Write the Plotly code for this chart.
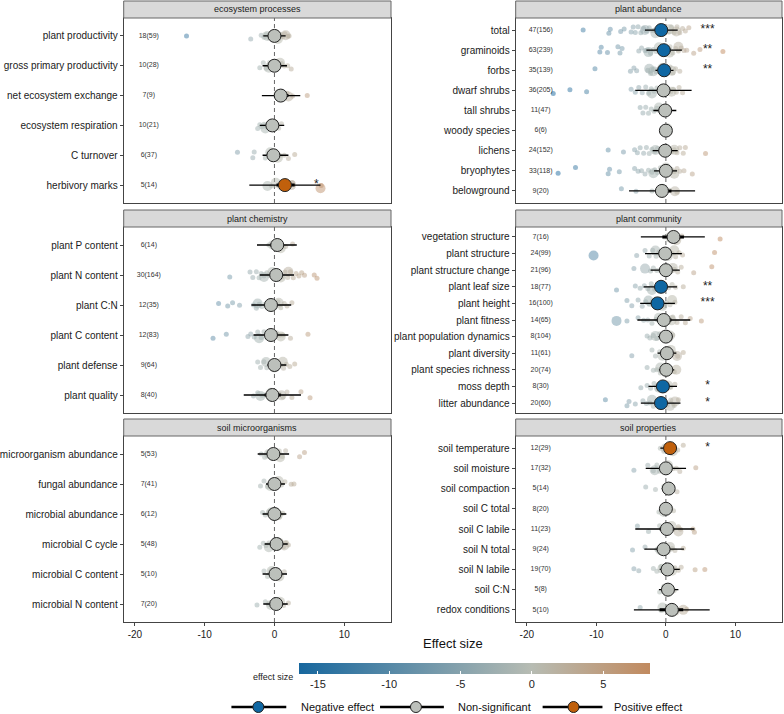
import plotly.graph_objects as go
from plotly.subplots import make_subplots

# ----------------------------------------------------------
# data
# ----------------------------------------------------------

eco_labels = ["plant productivity", "gross primary productivity", "net ecosystem exchange",
              "ecosystem respiration", "C turnover", "herbivory marks"]
eco_k = ["18(59)", "10(28)", "7(9)", "10(21)", "6(37)", "5(14)"]
eco_est = [0.0, 0.0, 0.9, -0.3, -0.15, 1.5]
eco_ci = [(-0.8, 0.8), (-0.9, 0.9), (0.0, 2.0), (-1.0, 0.5), (-0.9, 0.7), (0.3, 2.9)]
eco_pi = [(-1.6, 1.6), (-1.7, 1.8), (-1.8, 3.7), (-2.1, 1.4), (-1.7, 2.0), (-3.6, 6.6)]
eco_sig = ["", "", "", "", "", "*"]
eco_cls = ["ns", "ns", "ns", "ns", "ns", "pos"]
eco_pts = [
    [-12.6, -3.4, -1.9, -1.5, -1.2, -0.8, -0.5, -0.2, 0.3, 0.6, 0.9, 1.2, 1.5, 1.9, 2.1],
    [-2.1, -1.6, -1.2, -0.7, -0.3, 0.2, 0.6, 1.0, 1.4, 1.9, 2.4],
    [0.3, 1.2, 1.8, 2.6, 4.7],
    [-2.4, -2.1, -1.8, -1.5, -1.1, -0.7, -0.3, 0.2, 0.6, 1.0],
    [-5.3, -3.1, -2.9, -1.3, -0.8, -0.3, 0.3, 0.8, 1.4, 2.0, 2.9],
    [-0.4, 2.6, 6.7],
]
eco_big = [[-1.0, 0.5, 1.6], [-0.8, 0.8], [0.6, 2.0], [-1.3, -0.2], [-0.6, 0.5],
           [-1.0, 0.2, 1.0, 2.4, 6.6]]

chem_labels = ["plant P content", "plant N content", "plant C:N", "plant C content",
               "plant defense", "plant quality"]
chem_k = ["6(14)", "30(164)", "12(35)", "12(83)", "9(64)", "8(40)"]
chem_est = [0.4, 0.25, -0.5, -0.5, 0.0, -0.3]
chem_ci = [(-0.6, 1.3), (-0.5, 1.0), (-1.3, 0.4), (-1.3, 0.3), (-0.6, 0.6), (-1.4, 0.9)]
chem_pi = [(-2.5, 3.2), (-2.1, 2.8), (-3.3, 2.4), (-3.0, 2.0), (-1.0, 1.7), (-4.4, 3.8)]
chem_sig = ["", "", "", "", "", ""]
chem_cls = ["ns"] * 6
chem_pts = [
    [-0.8, 0.2, 0.9, 1.6, 2.6],
    [-6.4, -3.5, -3.1, -2.6, -2.2, -1.9, -1.5, -1.1, -0.8, -0.5, -0.2, 0.2, 0.5, 0.8, 1.1,
     1.5, 1.9, 2.3, 2.7, 3.1, 3.5, 3.9, 4.3, 5.7, 6.1],
    [-8.0, -6.7, -6.0, -5.0, -3.0, -2.6, -2.2, -1.8, -1.3, -0.9, -0.4, 0.1, 0.5, 0.9, 1.4,
     1.8, 2.5],
    [-8.8, -6.9, -3.8, -3.4, -2.9, -2.4, -1.9, -1.5, -1.1, -0.6, -0.2, 0.3, 0.7, 1.2, 2.3, 4.8],
    [-2.4, -2.0, -1.5, -1.1, -0.7, -0.3, 0.1, 0.5, 0.9, 1.3, 1.7, 2.2, 2.9],
    [-3.0, -2.4, -1.8, -1.2, -0.8, -0.3, 0.2, 0.7, 1.2, 1.8, 2.5, 3.8, 5.1],
]
chem_big = [[-0.2, 0.9], [-1.5, -0.3, 0.9, 2.0], [-2.4, -0.8, 0.6], [-2.2, -0.8, 0.9],
            [-1.2, 0.0, 1.2], [-2.0, -0.5, 1.0]]

micro_labels = ["microorganism abundance", "fungal abundance", "microbial abundance",
                "microbial C cycle", "microbial C content", "microbial N content"]
micro_k = ["5(53)", "7(41)", "6(12)", "5(48)", "5(10)", "7(20)"]
micro_est = [-0.15, 0.0, 0.0, 0.3, 0.15, 0.25]
micro_ci = [(-0.9, 0.6), (-0.7, 0.7), (-0.7, 0.7), (-0.5, 1.1), (-0.5, 0.8), (-0.5, 1.0)]
micro_pi = [(-2.4, 2.1), (-1.2, 1.5), (-1.7, 1.7), (-1.4, 1.9), (-1.7, 1.8), (-1.6, 1.9)]
micro_sig = ["", "", "", "", "", ""]
micro_cls = ["ns"] * 6
micro_pts = [
    [-1.9, -1.4, -0.9, -0.5, -0.1, 0.3, 0.7, 1.1, 1.6, 3.6, 4.3],
    [-2.0, -1.5, -1.0, -0.5, 0.1, 0.6, 1.0, 1.5, 2.4, 2.8],
    [-1.7, -1.3, -0.8, -0.3, 0.2, 0.7, 1.2],
    [-2.1, -1.6, -1.2, -0.8, -0.4, 0.1, 0.5, 0.9, 1.3, 1.7, 2.0],
    [-1.5, -1.0, -0.5, 0.0, 0.5, 0.9, 1.4],
    [-2.5, -1.3, -0.8, -0.3, 0.3, 0.8, 1.3, 2.0],
]
micro_big = [[-0.8, 0.8], [-0.6, 0.6], [-0.5, 0.5], [-0.8, 0.6, 1.4], [-0.4, 0.7], [-0.5, 0.8]]

abund_labels = ["total", "graminoids", "forbs", "dwarf shrubs", "tall shrubs",
                "woody species", "lichens", "bryophytes", "belowground"]
abund_k = ["47(156)", "63(239)", "35(139)", "36(205)", "11(47)", "6(6)", "24(152)",
           "33(118)", "9(20)"]
abund_est = [-0.67, -0.3, -0.25, -0.33, -0.1, 0.0, -0.1, 0.0, -0.57]
abund_ci = [(-1.5, 0.2), (-1.3, 0.7), (-0.9, 0.4), (-1.3, 0.6), (-0.9, 0.7), (-0.4, 0.4),
            (-0.9, 0.7), (-0.8, 0.8), (-1.5, 0.8)]
abund_pi = [(-3.0, 1.7), (-2.8, 2.3), (-1.5, 1.1), (-4.4, 3.7), (-1.8, 1.5), (-0.5, 0.5),
            (-1.9, 1.7), (-1.7, 1.6), (-5.3, 4.2)]
abund_sig = ["***", "**", "**", "", "", "", "", "", ""]
abund_cls = ["neg", "neg", "neg", "ns", "ns", "ns", "ns", "ns", "ns"]
abund_pts = [
    [-11.9, -8.2, -8.0, -6.5, -6.0, -5.0, -4.7, -4.4, -4.0, -3.6, -3.2, -2.8, -2.4, -2.0,
     -1.6, -1.2, -0.8, -0.4, 0.0, 0.4, 0.8, 1.2, 1.6, 2.0, 2.4, 2.8, 3.3],
    [-9.5, -9.3, -8.4, -6.9, -6.6, -6.3, -3.9, -3.5, -3.0, -2.6, -2.2, -1.8, -1.4, -1.0,
     -0.6, -0.2, 0.2, 0.6, 1.0, 1.4, 1.8, 2.2, 2.6, 3.0, 4.0, 4.9, 8.2],
    [-10.2, -5.1, -4.6, -4.2, -2.6, -2.2, -1.8, -1.4, -1.0, -0.6, -0.2, 0.2, 0.6, 1.0, 1.4, 2.0],
    [-16.2, -13.8, -11.4, -5.0, -4.4, -3.9, -3.4, -2.9, -2.5, -2.1, -1.7, -1.3, -0.9, -0.5,
     -0.1, 0.3, 0.7, 1.1, 1.5, 1.9, 2.4],
    [-3.7, -3.3, -2.9, -2.5, -2.1, -1.7, -1.3, -0.9, -0.4, 0.2],
    [-0.4, 0.3],
    [-8.3, -6.1, -4.5, -4.1, -3.7, -3.2, -2.8, -2.4, -2.0, -1.6, -1.2, -0.8, -0.4, 0.0, 0.4,
     0.8, 1.2, 1.6, 2.0, 2.5, 2.8, 5.7],
    [-15.5, -13.0, -8.3, -8.1, -6.7, -4.5, -4.0, -3.5, -3.0, -2.5, -2.0, -1.6, -1.2, -0.8,
     -0.4, 0.0, 0.4, 0.8, 1.2, 1.6, 2.0, 2.6, 3.8],
    [-6.4, -4.3, -2.0, -1.0, 0.5, 1.6],
]
abund_big = [[-3.0, -1.5, 0.5, 1.5], [-2.5, -1.0, 0.5, 1.8], [-2.4, -1.8, -0.5, 0.8],
             [-2.0, -0.5, 0.8], [-1.0], [-0.2, 0.2], [-1.5, 0.0, 1.2], [-1.8, 0.0, 1.2],
             [-0.5, 1.3]]

comm_labels = ["vegetation structure", "plant structure", "plant structure change",
               "plant leaf size", "plant height", "plant fitness", "plant population dynamics",
               "plant diversity", "plant species richness", "moss depth", "litter abundance"]
comm_k = ["7(16)", "24(99)", "21(96)", "18(77)", "16(100)", "14(65)", "8(104)", "11(61)",
          "20(74)", "8(30)", "20(60)"]
comm_est = [1.1, -0.1, 0.0, -0.7, -1.2, -0.3, 0.0, 0.15, 0.05, -0.43, -0.7]
comm_ci = [(-0.5, 2.6), (-1.0, 0.8), (-0.8, 0.8), (-1.6, 0.2), (-2.1, -0.3), (-1.3, 0.8),
           (-0.6, 0.6), (-0.6, 0.9), (-0.5, 0.6), (-1.3, 0.4), (-1.6, 0.2)]
comm_pi = [(-3.6, 5.6), (-3.0, 2.3), (-2.2, 2.0), (-3.2, 1.6), (-3.7, 1.3), (-4.1, 3.5),
           (-1.1, 1.0), (-1.2, 1.5), (-1.0, 1.2), (-2.5, 1.6), (-3.6, 2.1)]
comm_sig = ["", "", "", "**", "***", "", "", "", "", "*", "*"]
comm_cls = ["ns", "ns", "ns", "neg", "neg", "ns", "ns", "ns", "ns", "neg", "neg"]
comm_pts = [
    [-0.2, 0.5, 1.2, 1.8, 2.3, 7.8],
    [-4.2, -3.0, -2.4, -1.9, -1.4, -1.0, -0.5, 0.0, 0.5, 0.9, 1.4, 1.9, 2.4, 7.0],
    [-4.6, -2.2, -1.8, -1.3, -0.8, -0.3, 0.2, 0.7, 1.2, 1.7, 2.2, 4.0, 6.6],
    [-7.1, -4.4, -3.7, -3.1, -2.6, -2.1, -1.6, -1.1, -0.6, -0.1, 0.4, 0.9, 1.4, 2.5],
    [-5.6, -4.9, -4.0, -3.4, -2.9, -2.4, -1.9, -1.4, -0.9, -0.4, 0.1, 0.6, 1.3],
    [-5.6, -4.0, -3.2, -2.6, -2.0, -1.4, -0.8, -0.2, 0.4, 1.0, 1.6, 2.2, 2.8, 3.5, 5.1],
    [-2.7, -2.3, -1.8, -1.3, -0.9, -0.4, 0.1, 0.6, 1.0],
    [-4.9, -2.0, -1.5, -0.9, -0.4, 0.2, 0.7, 1.2, 1.7, 2.5],
    [-2.7, -1.8, -1.3, -0.8, -0.3, 0.2, 0.7, 1.2],
    [-3.6, -2.7, -2.2, -1.7, -1.2, -0.8, -0.3, 0.2, 0.7, 1.3],
    [-8.7, -5.6, -5.3, -4.4, -3.3, -2.8, -2.3, -1.8, -1.3, -0.8, -0.3, 0.2, 0.7, 1.2, 1.8],
]
comm_big = [[0.6, 1.5], [-10.4, -1.5, 0.3, 1.2], [-3.0, 0.0, 1.0], [-2.0, -0.4],
            [-2.5, -0.5, 0.9], [-7.1, -1.0, 0.8], [-1.5, 0.0, 0.6], [-0.5, 0.7, 1.6],
            [-0.8, 0.4, 1.5], [-1.0, 0.3], [-2.0, 0.6, 1.3]]

soil_labels = ["soil temperature", "soil moisture", "soil compaction", "soil C total",
               "soil C labile", "soil N total", "soil N labile", "soil C:N", "redox conditions"]
soil_k = ["12(29)", "17(32)", "5(14)", "8(20)", "11(23)", "9(24)", "19(70)", "5(8)", "5(10)"]
soil_est = [0.6, 0.0, 0.4, 0.0, 0.15, -0.33, 0.24, 0.3, 0.86]
soil_ci = [(-0.1, 1.3), (-0.9, 0.9), (-0.2, 0.9), (-0.5, 0.5), (-0.9, 1.2), (-1.3, 0.6),
           (-0.6, 1.0), (-0.4, 1.0), (-0.9, 2.5)]
soil_pi = [(-0.8, 1.6), (-2.9, 2.9), (-0.6, 1.1), (-0.8, 0.8), (-4.4, 4.1), (-3.1, 2.6),
           (-0.9, 2.0), (-1.0, 1.8), (-4.6, 6.3)]
soil_sig = ["*", "", "", "", "", "", "", "", ""]
soil_cls = ["pos", "ns", "ns", "ns", "ns", "ns", "ns", "ns", "ns"]
soil_pts = [
    [-0.8, -0.3, 0.2, 0.7, 1.2, 1.7, 2.5],
    [-4.6, -2.6, -1.8, -1.3, -0.9, -0.4, 0.1, 0.6, 1.0, 1.5, 2.0, 4.3],
    [-2.9, -1.5, -0.3, 0.3, 0.8, 1.6],
    [-1.0, -0.4, 0.2, 0.7, 1.1],
    [-4.1, -2.5, -0.9, -0.3, 0.4, 1.0, 1.8, 2.1, 3.9, 4.1],
    [-4.8, -3.0, -1.3, -0.5, 0.3, 0.9, 1.3, 2.5],
    [-4.6, -3.9, -1.8, -1.3, -0.7, -0.2, 0.3, 0.8, 1.3, 1.8, 2.2, 4.2, 5.6],
    [-0.9, -0.3, 0.3, 0.8, 1.2],
    [-3.7, -0.7, 0.5, 1.5, 3.0],
]
soil_big = [[0.0, 1.0], [-1.6, 0.3], [0.2], [-0.3, 0.3], [0.8, 1.8], [-0.8, 0.6],
            [-0.5, 0.9], [0.2], [-0.5, 1.2, 2.5]]

legend_labels = ["Negative effect", "Non-significant", "Positive effect"]
cbar_ticks = [-15, -10, -5, 0, 5]
x_ticks = [-20, -10, 0, 10]


# ==========================================================
# STYLE / LAYOUT
# ==========================================================

W, H = 784, 714
FONT = "Liberation Sans, Arial, sans-serif"
CMIN, CMAX = -16.3, 8.3
ZERO_POS = (0 - CMIN) / (CMAX - CMIN)
COLORSCALE = [[0.0, "#17679e"], [ZERO_POS, "#b7bcb3"], [1.0, "#c18a5f"]]
CLS_COLOR = {"neg": "#0f67a3", "ns": "#bcc0bb", "pos": "#c0600c"}
X_RANGE = [-21.6, 16.7]

COL_PX = {1: (122, 390), 2: (515, 782)}
ROW_PX = {1: (18, 203), 2: (227, 413), 3: (436, 622)}
STRIP_H = 17

JITTER = [0.0, 0.55, -0.45, 0.9, -0.85, 0.25, -0.2, 0.7, -0.65, 0.4, -0.95, 0.1, -0.3, 0.8]


def px_x(p):
    return p / W


def px_y(p):
    return 1 - p / H


def hyphen(vals):
    # ggplot writes negative ticks with a plain hyphen
    return [str(v) for v in vals]


panels = [
    ("ecosystem processes", 1, 1, eco_labels, eco_k, eco_est, eco_ci, eco_pi, eco_sig,
     eco_cls, eco_pts, eco_big),
    ("plant abundance", 1, 2, abund_labels, abund_k, abund_est, abund_ci, abund_pi,
     abund_sig, abund_cls, abund_pts, abund_big),
    ("plant chemistry", 2, 1, chem_labels, chem_k, chem_est, chem_ci, chem_pi, chem_sig,
     chem_cls, chem_pts, chem_big),
    ("plant community", 2, 2, comm_labels, comm_k, comm_est, comm_ci, comm_pi, comm_sig,
     comm_cls, comm_pts, comm_big),
    ("soil microorganisms", 3, 1, micro_labels, micro_k, micro_est, micro_ci, micro_pi,
     micro_sig, micro_cls, micro_pts, micro_big),
    ("soil properties", 3, 2, soil_labels, soil_k, soil_est, soil_ci, soil_pi, soil_sig,
     soil_cls, soil_pts, soil_big),
]

fig = make_subplots(rows=3, cols=2)
shapes = []
annotations = []
first_points = True

for i, (title, r, c, labels, ks, est, ci, pi, sig, cls, pts, big) in enumerate(panels):
    n = len(labels)
    top, bottom = ROW_PX[r]
    row_px = (bottom - top) / (n - 1 + 1.2)
    amp = 3.5 / row_px

    # background effect sizes
    for group, size in ((pts, 5), (big, 10)):
        xs, ys = [], []
        for j, row in enumerate(group):
            for m, v in enumerate(row):
                xs.append(v)
                ys.append(j + amp * JITTER[(m * 3 + j) % len(JITTER)])
        marker = dict(size=size, color=xs, colorscale=COLORSCALE, cmin=CMIN, cmax=CMAX,
                      opacity=0.5, line=dict(width=0))
        if first_points:
            marker["showscale"] = True
            marker["colorbar"] = dict(
                orientation="h", x=px_x(474), xanchor="center",
                y=px_y(663), yanchor="top", len=351, lenmode="pixels",
                xpad=0, ypad=0,
                thickness=11, outlinewidth=0,
                tickvals=cbar_ticks, ticktext=hyphen(cbar_ticks),
                ticks="inside", ticklen=3, tickcolor="white",
                tickfont=dict(size=11, color="#222", family=FONT),
            )
            first_points = False
        fig.add_trace(go.Scatter(x=xs, y=ys, mode="markers", marker=marker,
                                 showlegend=False, hoverinfo="skip"), row=r, col=c)

    # prediction intervals (thin) and confidence intervals (thick)
    for bounds, width in ((pi, 1.3), (ci, 3)):
        lx, ly = [], []
        for j, (lo, hi) in enumerate(bounds):
            lx += [lo, hi, None]
            ly += [j, j, None]
        fig.add_trace(go.Scatter(x=lx, y=ly, mode="lines",
                                 line=dict(color="black", width=width),
                                 showlegend=False, hoverinfo="skip"), row=r, col=c)

    # estimates
    fig.add_trace(go.Scatter(
        x=est, y=list(range(n)), mode="markers",
        marker=dict(size=13, color=[CLS_COLOR[k] for k in cls],
                    line=dict(color="#222", width=1)),
        showlegend=False), row=r, col=c)

    # k (n) labels
    fig.add_trace(go.Scatter(
        x=[-18] * n, y=list(range(n)), mode="text", text=ks,
        textfont=dict(size=7, color="#333", family=FONT),
        showlegend=False, hoverinfo="skip"), row=r, col=c)

    # significance stars
    sy = [j for j in range(n) if sig[j]]
    fig.add_trace(go.Scatter(
        x=[6] * len(sy), y=sy, mode="text", text=[sig[j] for j in sy],
        textfont=dict(size=12, color="#222", family=FONT),
        showlegend=False, hoverinfo="skip"), row=r, col=c)

    ax = i + 1
    xname = "xaxis" if ax == 1 else f"xaxis{ax}"
    yname = "yaxis" if ax == 1 else f"yaxis{ax}"
    xref = "x" if ax == 1 else f"x{ax}"
    yref = "y" if ax == 1 else f"y{ax}"
    left, right = COL_PX[c]

    fig.layout[xname].update(
        domain=[px_x(left), px_x(right)], range=X_RANGE,
        showgrid=False, zeroline=False, showline=True, mirror=True,
        linecolor="#444", linewidth=1,
        tickvals=x_ticks, ticktext=hyphen(x_ticks), showticklabels=(r == 3),
        ticks="outside" if r == 3 else "", ticklen=3, tickcolor="#444",
        tickfont=dict(size=10, color="#222", family=FONT),
    )
    fig.layout[yname].update(
        domain=[px_y(bottom), px_y(top)], range=[n - 1 + 0.6, -0.6],
        showgrid=False, zeroline=False, showline=True, mirror=True,
        linecolor="#444", linewidth=1,
        tickvals=list(range(n)), ticktext=labels,
        ticks="outside", ticklen=3, tickcolor="#444",
        tickfont=dict(size=10, color="#1a1a1a", family=FONT),
    )

    # dashed zero line
    shapes.append(dict(type="line", xref=xref, yref=f"{yref} domain", x0=0, x1=0,
                       y0=0, y1=1, line=dict(color="#666", width=1, dash="4px,3px"),
                       layer="below"))

    # strip header
    shapes.append(dict(type="rect", xref="paper", yref="paper",
                       x0=px_x(left), x1=px_x(right), y0=px_y(top), y1=px_y(top - STRIP_H),
                       fillcolor="#d9d9d9", line=dict(color="#666", width=1)))
    annotations.append(dict(text=title, xref="paper", yref="paper",
                            x=px_x((left + right) / 2), y=px_y(top - STRIP_H / 2),
                            showarrow=False, xanchor="center", yanchor="middle",
                            font=dict(size=9, color="#1a1a1a", family=FONT)))

# axis title
annotations.append(dict(text="Effect size", xref="paper", yref="paper",
                        x=px_x(452), y=px_y(643), showarrow=False,
                        xanchor="center", yanchor="middle",
                        font=dict(size=13, color="#111", family=FONT)))
annotations.append(dict(text="effect size", xref="paper", yref="paper",
                        x=px_x(294), y=px_y(677), showarrow=False,
                        xanchor="right", yanchor="middle",
                        font=dict(size=9, color="#222", family=FONT)))

# legend drawn by hand
legend_x = [(230, 285, 257, 298), (379, 443, 415, 455), (542, 602, 573, 612)]
legend_colors = [CLS_COLOR["neg"], CLS_COLOR["ns"], CLS_COLOR["pos"]]
ly = 707
for (x0, x1, cx, tx), col, lab in zip(legend_x, legend_colors, legend_labels):
    shapes.append(dict(type="line", xref="paper", yref="paper",
                       x0=px_x(x0), x1=px_x(x1), y0=px_y(ly), y1=px_y(ly),
                       line=dict(color="black", width=2.5)))
    shapes.append(dict(type="circle", xref="paper", yref="paper",
                       x0=px_x(cx - 5.5), x1=px_x(cx + 5.5),
                       y0=px_y(ly + 5.5), y1=px_y(ly - 5.5),
                       fillcolor=col, line=dict(color="#222", width=1)))
    annotations.append(dict(text=lab, xref="paper", yref="paper",
                            x=px_x(tx), y=px_y(ly), showarrow=False,
                            xanchor="left", yanchor="middle",
                            font=dict(size=11, color="#111", family=FONT)))

fig.update_layout(
    width=W, height=H,
    margin=dict(l=0, r=0, t=0, b=0),
    paper_bgcolor="white", plot_bgcolor="white",
    showlegend=False,
    shapes=shapes, annotations=annotations,
    font=dict(family=FONT),
)

# the page body has a default 8px margin; drop it so the figure fills the window
fig.write_html("out.html", config={"displayModeBar": False},
               post_script="document.body.style.margin='0';")
